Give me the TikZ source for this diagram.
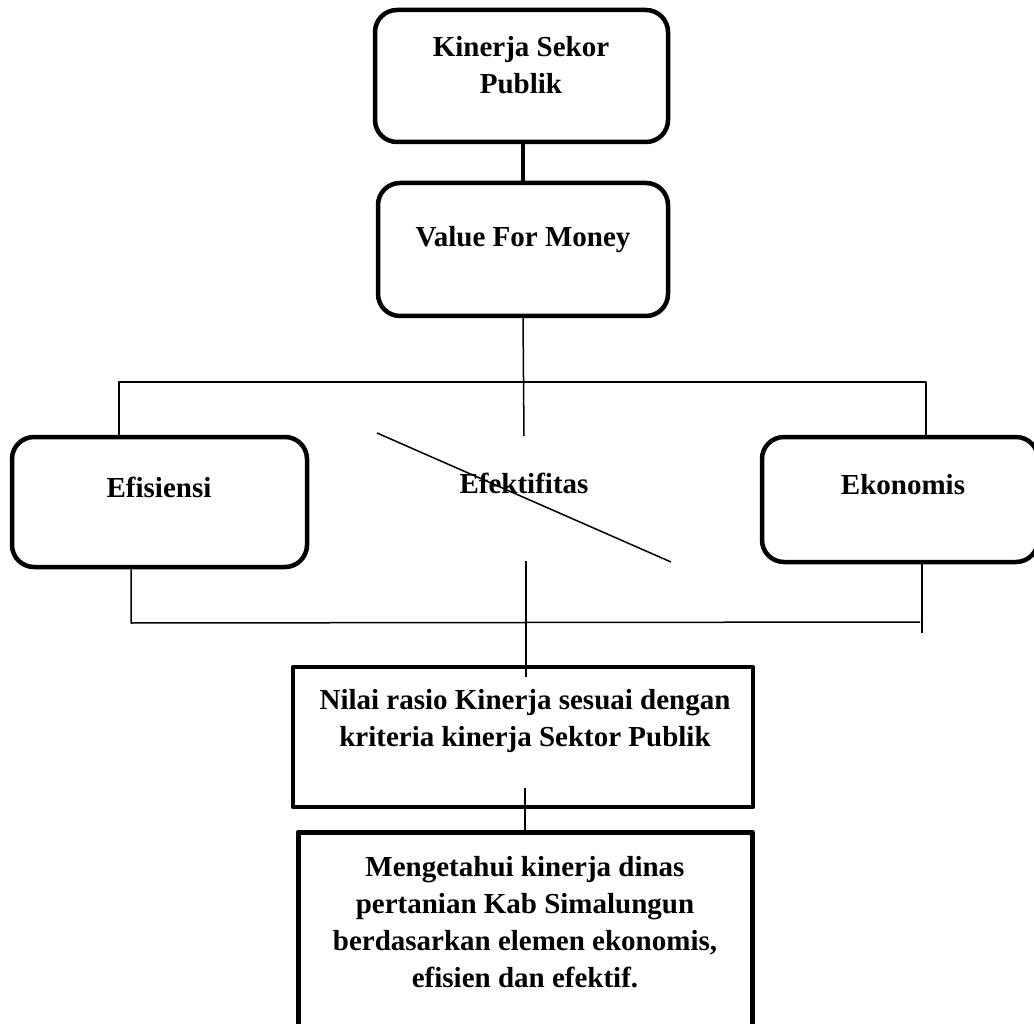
\documentclass[tikz,border=0pt]{standalone}
\usepackage{fontspec}
\setmainfont{Liberation Serif}
\usetikzlibrary{positioning}
\begin{document}
\begin{tikzpicture}[x=1pt, y=-1pt, font=\fontsize{29}{37}\selectfont\bfseries, line join=round,
	roundbox/.style={draw, line width=4.5pt, rounded corners=22pt, inner sep=0pt},
	sharpbox/.style={draw, line width=4.5pt, inner sep=0pt},
	boxtext/.style={align=center, inner sep=0pt},
	link/.style={line width=1.5pt}]
	\useasboundingbox (0,0) rectangle (1034,1024);
	% boxes
	\node[roundbox, minimum width=293pt, minimum height=132pt] (kinerja) at (521.5,76) {};
	\node[roundbox, minimum width=290pt, minimum height=133pt] (value) at (523,249.5) {};
	\node[roundbox, minimum width=295pt, minimum height=130pt] (efisiensi) at (159.5,502) {};
	\node[roundbox, minimum width=276pt, minimum height=125pt] (ekonomis) at (900,499.5) {};
	\node[sharpbox, minimum width=460pt, minimum height=140pt] (nilai) at (523,737) {};
	\node[sharpbox, line width=5pt, minimum width=454pt, minimum height=228pt] (tujuan) at (525,946) {};
	% texts
	\node[boxtext] (kinerjaT) at (521,65) {Kinerja Sekor\\Publik};
	\node[boxtext] (valueT) at (523,240) {Value For Money};
	\node[boxtext] (efisiensiT) at (159,487) {Efisiensi};
	\node[boxtext] (efektifT) at (524,483) {Efektifitas};
	\node[boxtext] (ekonomisT) at (903,485) {Ekonomis};
	\node[boxtext] (nilaiT) at (525,721) {Nilai rasio Kinerja sesuai dengan\\kriteria kinerja Sektor Publik};
	\node[boxtext] (tujuanT) at (525,922) {Mengetahui kinerja dinas\\pertanian Kab Simalungun\\berdasarkan elemen ekonomis,\\efisien dan efektif.};
	% free ends
	\coordinate (busL) at (119,382);
	\coordinate (busR) at (926,382);
	\coordinate (efekTop) at (524,436);
	\coordinate (efekBot) at (526,561);
	\coordinate (lowL) at (131,623);
	\coordinate (lowR) at (920,622);
	\coordinate (ekoEnd) at (922,633);
	\coordinate (nilaiIn) at (526,677);
	\coordinate (slashA) at (377,433);
	\coordinate (slashB) at (671,562);
	\coordinate (nilaiOut) at (525,788);
	% connectors
	\draw[line width=4.5pt] (kinerja.south) -- (value.south |- kinerja.south) -- (value.north);
	\draw[link] (value.south) -- (efekTop);
	\draw[link] (busL |- efisiensi.north) -- (busL) -- (busR) -- (busR |- ekonomis.north);
	\draw[link] (slashA) -- (slashB);
	\draw[link] (lowL |- efisiensi.south) -- (lowL) -- (lowR);
	\draw[link] (ekoEnd |- ekonomis.south) -- (ekoEnd);
	\draw[link] (efekBot) -- (nilaiIn);
	\draw[link] (nilaiOut) -- (nilaiOut |- tujuan.north);
\end{tikzpicture}
\end{document}
